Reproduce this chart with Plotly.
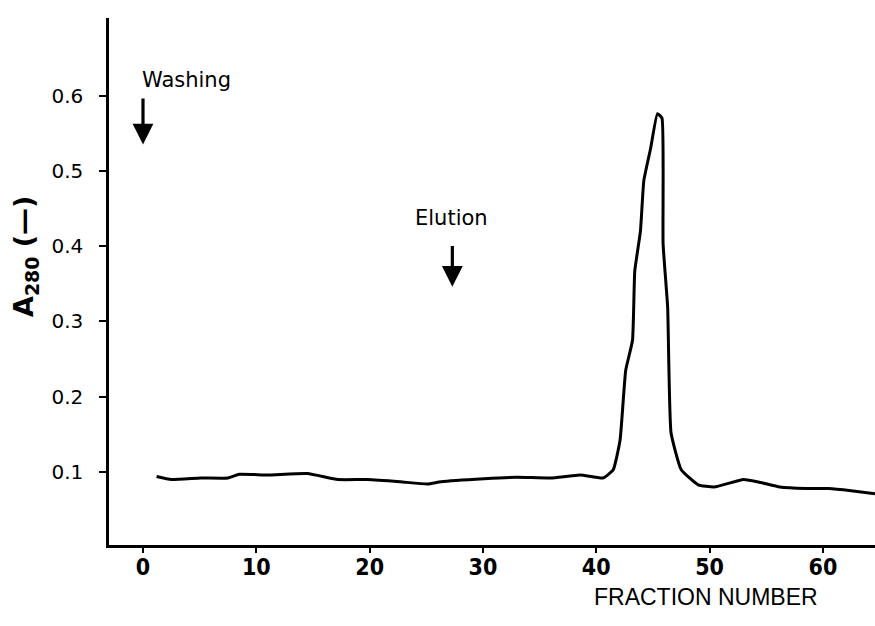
import plotly.graph_objects as go

# Fraction number vs A280
fraction = [1.2, 2.5, 5.1, 7.5, 8.5, 11.0, 14.5, 17.2, 19.8, 22.7, 25.1, 26.3, 30.1, 33.0,
            36.0, 38.6, 40.6, 41.5, 42.1, 42.6, 43.2, 43.4, 43.9, 44.2, 44.8, 45.4, 45.8,
            45.9, 46.3, 46.6, 47.5, 49.0, 50.4, 53.0, 54.5, 56.2, 58.5, 60.5, 62.5, 64.6]
a280 = [0.094, 0.090, 0.092, 0.092, 0.097, 0.096, 0.098, 0.090, 0.090, 0.087, 0.084, 0.087,
        0.091, 0.093, 0.092, 0.096, 0.092, 0.103, 0.142, 0.235, 0.275, 0.367, 0.420, 0.487,
        0.530, 0.576, 0.570, 0.403, 0.319, 0.152, 0.103, 0.083, 0.080, 0.090, 0.086, 0.080,
        0.078, 0.078, 0.075, 0.071]

x_ticks = [0, 10, 20, 30, 40, 50, 60]
y_ticks = [0.1, 0.2, 0.3, 0.4, 0.5, 0.6]
y_tick_labels = ["0.1", "0.2", "0.3", "0.4", "0.5", "0.6"]

# annotation anchors (fraction, A280 tip, A280 tail)
washing_pos = (0, 0.535, 0.598)
elution_pos = (27.3, 0.346, 0.402)

W, H = 875, 626
L, R, T, B = 109, 0, 18, 81
pw, ph = W - L - R, H - T - B

fig = go.Figure()
fig.add_trace(go.Scatter(x=fraction, y=a280, mode="lines",
                         line=dict(color="black", width=3, shape="spline", smoothing=0.4),
                         hoverinfo="skip", showlegend=False))

narrow = "Liberation Sans Narrow, DejaVu Sans Condensed, Arial"

fig.update_layout(
    width=W, height=H,
    margin=dict(l=L, r=R, t=T, b=B, autoexpand=False),
    paper_bgcolor="white", plot_bgcolor="white",
    xaxis=dict(range=[-3.0, 64.6], tickvals=x_ticks, ticks="outside", ticklen=5, tickwidth=2,
               tickcolor="black", showline=True, linecolor="black", linewidth=2.5,
               showgrid=False, zeroline=False,
               tickfont=dict(family=narrow, size=23, color="black", weight="bold"),
               ticklabelstandoff=-5),
    yaxis=dict(range=[0.003, 0.703], tickvals=y_ticks, ticktext=y_tick_labels,
               ticks="outside", ticklen=7, tickwidth=2, tickcolor="black",
               showline=True, linecolor="black", linewidth=2.5, showgrid=False,
               zeroline=False,
               tickfont=dict(family="DejaVu Sans, Arial", size=20, color="black"),
               ticklabelstandoff=12),
)

ann_font = dict(family="DejaVu Sans, Arial", size=21, color="black")

for pos in (washing_pos, elution_pos):
    fig.add_annotation(x=pos[0], y=pos[1], ax=pos[0], ay=pos[2],
                       xref="x", yref="y", axref="x", ayref="y", text="", showarrow=True,
                       arrowhead=2, arrowsize=1.3, arrowwidth=3.2, arrowcolor="black")
fig.add_annotation(x=3.8, y=0.621, xref="x", yref="y", text="Washing", showarrow=False,
                   font=ann_font)
fig.add_annotation(x=27.2, y=0.438, xref="x", yref="y", text="Elution", showarrow=False,
                   font=ann_font)

# axis titles positioned in pixels -> paper coords
fig.add_annotation(xref="paper", yref="paper", x=(25 - L) / pw, y=(H - B - 257) / ph,
                   xanchor="center", yanchor="middle",
                   text="A<sub>280</sub> (—)", showarrow=False, textangle=-90,
                   font=dict(family="DejaVu Sans, Arial", size=27, color="black", weight="bold"))
fig.add_annotation(xref="paper", yref="paper", x=(706 - L) / pw, y=(H - B - 597) / ph,
                   xanchor="center", yanchor="middle",
                   text="FRACTION NUMBER", showarrow=False,
                   font=dict(family="Liberation Sans, Arial", size=23, color="black"))

fig.write_html("out.html", config={"displayModeBar": False},
               post_script="document.body.style.margin='0';document.body.style.padding='0';"
                           "document.body.style.overflow='hidden';")
